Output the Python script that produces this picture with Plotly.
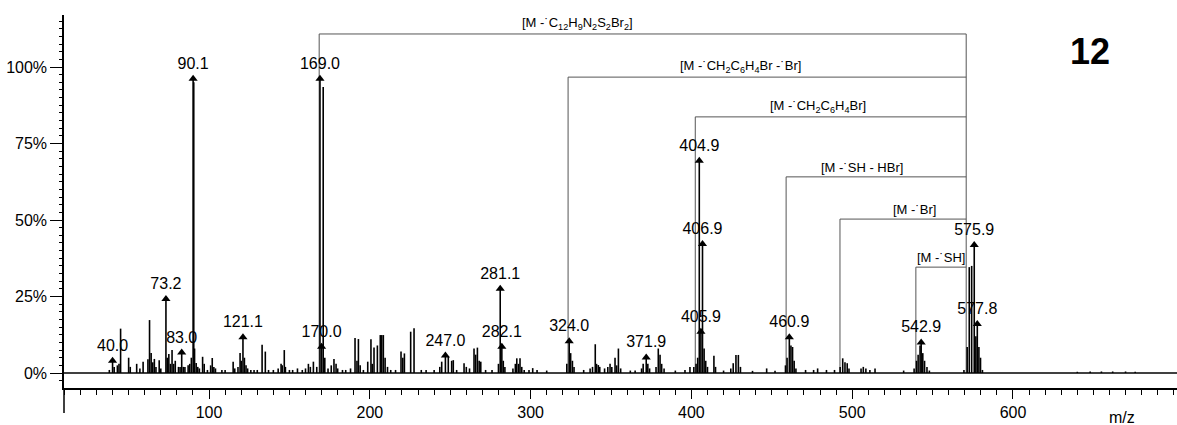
import plotly.graph_objects as go

# ---------------- data ----------------
peak_mz = [38.0, 40.0, 41.0, 43.0, 44.0, 45.0, 50.0, 51.0, 55.0, 57.0, 59.0, 62.0, 63.0, 64.0,
           65.0, 66.0, 67.0, 69.0, 70.0, 73.2, 74.0, 75.0, 76.0, 77.0, 78.0, 79.0, 81.0, 82.0,
           83.0, 84.0, 85.0, 87.0, 88.0, 89.0, 90.1, 90.5, 91.0, 92.0, 93.0, 94.0, 96.0, 97.0, 99.0,
           101.0, 102.0, 103.0, 104.0, 108.0, 110.0, 115.0, 116.0, 118.0, 119.3, 120.0, 121.1,
           122.0, 123.0, 124.0, 126.0, 128.0, 130.0, 133.0, 135.0, 137.0, 140.0, 143.0, 144.8,
           145.5, 146.8, 147.5, 150.0, 152.0, 155.0, 158.0, 160.0, 161.8, 163.0, 164.9, 167.0,
           169.0, 170.0, 171.0, 172.0, 174.0, 176.0, 177.7, 179.0, 180.0, 183.0, 185.0, 188.0,
           190.8, 192.0, 192.9, 194.0, 196.0, 198.7, 200.7, 201.5, 202.6, 204.7, 206.5, 207.4,
           208.4, 209.5, 211.0, 213.0, 216.0, 219.4, 220.5, 221.5, 225.4, 227.5, 232.0, 235.0,
           240.0, 243.5, 244.7, 247.0, 248.8, 250.9, 251.9, 254.0, 258.6, 260.0, 262.0, 264.8,
           265.8, 266.9, 268.0, 269.0, 272.0, 276.0, 280.0, 281.1, 282.1, 283.0, 284.0, 289.0,
           290.5, 291.4, 292.5, 293.4, 294.5, 296.0, 299.0, 301.3, 304.0, 310.0, 322.5, 324.0,
           324.9, 326.0, 327.0, 333.0, 337.0, 338.5, 340.2, 341.0, 342.1, 343.0, 346.0, 348.0,
           349.4, 350.5, 352.5, 353.5, 354.6, 356.0, 362.0, 365.0, 369.0, 370.0, 371.9, 372.9,
           374.0, 378.0, 379.4, 380.5, 381.5, 383.0, 390.0, 396.0, 399.1, 401.5, 402.9, 403.9,
           404.9, 405.9, 406.9, 407.9, 408.9, 410.0, 414.0, 415.0, 420.0, 424.5, 426.0, 427.7,
           429.2, 430.5, 438.0, 446.8, 452.0, 458.5, 459.5, 460.9, 461.9, 462.9, 463.9, 465.0,
           471.0, 476.0, 478.5, 484.0, 489.0, 492.5, 494.1, 495.5, 496.9, 498.0, 505.5, 506.9,
           508.5, 511.0, 514.2, 532.0, 538.5, 540.0, 541.0, 542.2, 542.9, 543.9, 545.0, 546.5,
           548.0, 569.5, 571.5, 572.8, 574.3, 575.9, 576.9, 577.8, 578.8, 579.8, 581.0, 640.0,
           648.0, 655.0, 662.0, 670.0, 676.0]
peak_int = [1.0, 4.0, 2.0, 2.5, 3.0, 14.5, 5.0, 2.0, 3.0, 1.5, 3.7, 4.5, 17.3, 6.5,
            3.5, 4.6, 2.0, 4.2, 1.5, 24.2, 5.0, 6.2, 3.0, 7.5, 3.0, 4.0, 2.0, 2.0,
            6.7, 2.0, 2.0, 2.5, 3.0, 5.0, 96.2, 95.0, 8.0, 3.3, 2.0, 1.5, 5.3, 3.0, 1.0,
            2.5, 4.9, 2.0, 1.5, 1.0, 1.0, 3.7, 1.5, 2.0, 6.5, 4.0, 11.7,
            5.0, 2.5, 1.5, 1.0, 1.0, 1.0, 9.2, 7.0, 1.0, 1.0, 1.5, 3.0,
            2.5, 7.5, 2.0, 1.0, 1.0, 1.5, 1.0, 1.5, 3.0, 2.0, 3.7, 2.0,
            96.2, 8.6, 93.5, 5.0, 1.5, 2.5, 4.6, 3.0, 1.5, 1.0, 1.0, 1.5,
            11.4, 4.0, 11.1, 2.5, 1.0, 3.7, 11.0, 3.0, 8.3, 9.0, 12.4, 12.4,
            12.4, 5.0, 2.0, 1.0, 1.0, 7.0, 5.0, 6.4, 13.5, 14.6, 1.0, 1.0,
            1.0, 2.0, 3.7, 5.7, 5.5, 4.0, 4.2, 1.0, 3.2, 2.0, 1.5, 8.0,
            6.0, 8.3, 4.0, 3.7, 1.0, 1.0, 3.0, 27.5, 8.6, 4.0, 2.0, 1.5,
            3.0, 4.8, 3.0, 4.8, 2.0, 1.0, 1.0, 1.6, 1.0, 0.8, 3.0, 10.4,
            6.5, 4.0, 2.0, 1.0, 1.5, 2.0, 9.4, 3.0, 2.6, 2.0, 1.5, 2.0,
            3.0, 2.0, 5.0, 2.5, 8.0, 1.5, 0.8, 0.8, 1.5, 3.0, 5.1, 3.0,
            1.5, 2.0, 8.0, 6.0, 3.0, 1.5, 0.8, 1.0, 2.0, 2.0, 3.0, 5.0,
            69.4, 13.5, 42.2, 8.0, 4.0, 2.0, 5.6, 2.0, 0.8, 1.5, 3.2, 5.9,
            5.9, 2.0, 0.7, 1.5, 0.7, 2.5, 5.0, 11.7, 9.0, 8.5, 4.0, 1.5,
            1.0, 1.0, 1.5, 1.0, 1.0, 2.0, 4.8, 3.5, 3.2, 1.5, 1.5, 2.0,
            1.5, 1.0, 1.5, 0.8, 1.5, 4.0, 6.0, 9.0, 10.0, 6.5, 4.0, 2.0,
            0.8, 1.0, 8.5, 34.6, 35.0, 41.8, 12.0, 16.0, 8.5, 5.0, 1.0, 0.4,
            0.5, 0.5, 0.5, 0.5, 0.4]

label_mz = [40.0, 73.2, 83.0, 90.1, 121.1, 169.0, 170.0, 247.0, 281.1, 282.1, 324.0,
            371.9, 404.9, 405.9, 406.9, 460.9, 542.9, 575.9, 577.8]
label_text = ["40.0", "73.2", "83.0", "90.1", "121.1", "169.0", "170.0", "247.0", "281.1",
              "282.1", "324.0", "371.9", "404.9", "405.9", "406.9", "460.9", "542.9",
              "575.9", "577.8"]

frag_text = ["[M -˙C<sub>12</sub>H<sub>9</sub>N<sub>2</sub>S<sub>2</sub>Br<sub>2</sub>]",
             "[M -˙CH<sub>2</sub>C<sub>6</sub>H<sub>4</sub>Br -˙Br]",
             "[M -˙CH<sub>2</sub>C<sub>6</sub>H<sub>4</sub>Br]",
             "[M -˙SH - HBr]",
             "[M -˙Br]",
             "[M -˙SH]"]
frag_left = [168.5, 323.3, 402.4, 458.9, 492.4, 539.6]
frag_level = [110.8, 96.7, 83.7, 64.1, 50.3, 34.6]
frag_label_x = [328.9, 430.8, 478.7, 506.1, 539.0, 555.4]
parent_mz = 570.9

y_ticks = [0, 25, 50, 75, 100]
x_ticks = [100, 200, 300, 400, 500, 600]
compound_label = "12"
x_title = "m/z"

# ---------------- figure ----------------
FONT = "Liberation Sans, Arial, sans-serif"
lookup = dict(zip(peak_mz, peak_int))
label_int = [lookup[m] for m in label_mz]

stem_x, stem_y = [], []
for m, v in zip(peak_mz, peak_int):
    stem_x += [m, m, None]
    stem_y += [0, v, None]

fig = go.Figure()
fig.add_trace(go.Scatter(x=stem_x, y=stem_y, mode="lines",
                         line=dict(color="black", width=1.6), hoverinfo="skip",
                         showlegend=False))
fig.add_trace(go.Scatter(x=label_mz, y=label_int, mode="markers+text",
                         marker=dict(symbol="triangle-up", size=8, color="black"),
                         text=label_text, textposition="top center",
                         textfont=dict(family=FONT, size=16, color="black"),
                         showlegend=False))

shapes = []
gray = "#555555"
for xl, lv in zip(frag_left, frag_level):
    shapes.append(dict(type="line", x0=xl, x1=parent_mz, y0=lv, y1=lv,
                       line=dict(color=gray, width=1), layer="below"))
    shapes.append(dict(type="line", x0=xl, x1=xl, y0=0, y1=lv,
                       line=dict(color=gray, width=1), layer="below"))
shapes.append(dict(type="line", x0=parent_mz, x1=parent_mz, y0=0, y1=max(frag_level),
                   line=dict(color=gray, width=1), layer="below"))
# 0% baseline
shapes.append(dict(type="line", xref="paper", x0=0, x1=1, y0=0, y1=0,
                   line=dict(color="black", width=1.5)))
# y axis extension below x axis
shapes.append(dict(type="line", xref="paper", yref="paper", x0=0, x1=0, y0=0, y1=-0.067,
                   line=dict(color="black", width=1.5)))

annotations = []
for t, xl, lv in zip(frag_text, frag_label_x, frag_level):
    annotations.append(dict(x=xl, y=lv, text=t, showarrow=False, xanchor="center",
                            yanchor="bottom", font=dict(family=FONT, size=13, color="black")))
annotations.append(dict(xref="paper", yref="paper", x=0.922, y=0.901,
                        text="<b>%s</b>" % compound_label, showarrow=False,
                        xanchor="center", yanchor="middle",
                        font=dict(family=FONT, size=36, color="black")))
annotations.append(dict(xref="paper", yref="paper", x=0.9506, y=-0.080, text=x_title,
                        showarrow=False, xanchor="center", yanchor="middle",
                        font=dict(family=FONT, size=16, color="black")))

fig.update_layout(
    width=1177, height=425,
    margin=dict(l=64, r=0, t=15, b=37),
    paper_bgcolor="white", plot_bgcolor="white",
    shapes=shapes, annotations=annotations,
    showlegend=False,
    xaxis=dict(range=[9.8, 702], tickvals=x_ticks, ticktext=[str(v) for v in x_ticks],
               showgrid=False, zeroline=False, showline=True, linecolor="black", linewidth=1.5,
               ticks="outside", ticklen=9, tickcolor="black", tickwidth=1.2, automargin=False,
               minor=dict(dtick=10, tick0=0, ticks="outside", ticklen=5, tickcolor="black",
                          showgrid=False),
               tickfont=dict(family=FONT, size=16, color="black")),
    yaxis=dict(range=[-4.9, 117], tickvals=y_ticks, ticktext=["%d%%" % v for v in y_ticks],
               showgrid=False, zeroline=False, showline=True, linecolor="black", linewidth=1.5,
               ticks="outside", ticklen=12, tickcolor="black", tickwidth=1.2, automargin=False,
               minor=dict(dtick=2.5, tick0=0, ticks="outside", ticklen=3, tickcolor="black",
                          showgrid=False),
               tickfont=dict(family=FONT, size=16, color="black")),
)

fig.write_html("out.html", config={"displayModeBar": False},
               post_script="document.body.style.margin='0';document.body.style.overflow='hidden';")
